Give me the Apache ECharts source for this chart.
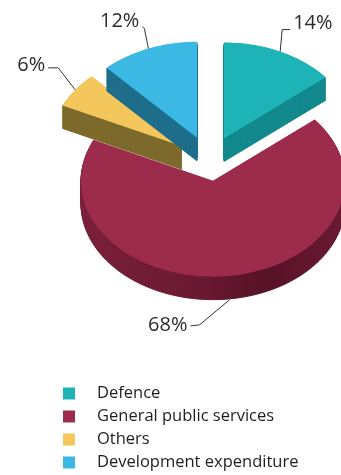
<!DOCTYPE html>
<html>
<head>
<meta charset="utf-8">
<title>Expenditure shares</title>
<script src="https://cdn.jsdelivr.net/npm/echarts@6/dist/echarts.min.js"></script>
<style>
  html, body { margin: 0; padding: 0; background: #fff; }
  #chart { width: 341px; height: 475px; }
</style>
</head>
<body>
<div id="chart"></div>
<script>
// Expenditure categories and their percentage shares
const categories = ['Defence', 'General public services', 'Others', 'Development expenditure'];
const shares = [14, 68, 6, 12];

// Face colours (top) and wall colours (extruded sides)
const topColors = ['#1eb3b6', '#9d2b4b', '#f3c75b', '#3bb9e4'];
const sideColors = ['#12898d', '#6c1a33', '#7d6a2c', '#1e6e8b'];

// Tilted-disc geometry
const geo = { cx: 209.5, cy: 160.8, rx: 132, ry: 96, depth: 23 };
const explode = [34, 27.5, 34, 34];

// Leader line shapes: elbow and tail offsets from the anchor on the slice rim
const leaders = [
  { elbow: [2, -22], tail: [10, -22], align: 'left', onBottom: false, dy: -6 },
  { elbow: [-30, 25], tail: [-39, 26], align: 'right', onBottom: true, dy: -1 },
  { elbow: [-17, -22], tail: [-27, -22], align: 'right', onBottom: false, dy: -3 },
  { elbow: [-4, -20], tail: [-6, -22], align: 'right', onBottom: false, dy: -5 }
];

const total = shares.reduce((a, b) => a + b, 0);
const FONT = '"Open Sans", "Noto Sans", sans-serif';

function sliceAngles(i) {
  let before = 0;
  for (let k = 0; k < i; k++) before += shares[k];
  const a0 = before / total * Math.PI * 2;
  const a1 = (before + shares[i]) / total * Math.PI * 2;
  return [a0, a1];
}

function wallFill(i) {
  if (i !== 1) return sideColors[i];
  // the large front wall darkens towards its lower right
  return new echarts.graphic.LinearGradient(0, 0, 1, 0, [
    { offset: 0, color: '#7a1f3a' },
    { offset: 0.45, color: '#6a1932' },
    { offset: 0.7, color: '#571228' },
    { offset: 1, color: '#6b1a33' }
  ]);
}

function renderSlice(params, api) {
  const i = params.seriesIndex;
  const value = api.value(0);
  const [a0, a1] = sliceAngles(i);
  const mid = (a0 + a1) / 2;
  const ox = geo.cx + explode[i] * Math.sin(mid);
  const oy = geo.cy - explode[i] * Math.cos(mid) * (geo.ry / geo.rx);

  const pts = [[ox, oy]];
  const steps = Math.max(8, Math.ceil((a1 - a0) / (Math.PI / 90)));
  for (let s = 0; s <= steps; s++) {
    const t = a0 + (a1 - a0) * s / steps;
    pts.push([ox + geo.rx * Math.sin(t), oy - geo.ry * Math.cos(t)]);
  }

  const children = [];
  // extruded wall: stacked copies of the face, deepest first
  const fill = wallFill(i);
  for (let d = geo.depth; d >= 1; d--) {
    children.push({
      type: 'polygon',
      shape: { points: pts.map(p => [p[0], p[1] + d]) },
      style: { fill: fill, stroke: fill, lineWidth: 1 },
      silent: true
    });
  }
  children.push({
    type: 'polygon',
    shape: { points: pts },
    style: { fill: topColors[i] }
  });

  // value label with leader line
  const L = leaders[i];
  const ax = ox + geo.rx * Math.sin(mid);
  const ay = oy - geo.ry * Math.cos(mid) + (L.onBottom ? geo.depth + 1 : 0);
  const ex = ax + L.tail[0], ey = ay + L.tail[1];
  children.push({
    type: 'polyline',
    shape: { points: [[ax, ay], [ax + L.elbow[0], ay + L.elbow[1]], [ex, ey]] },
    style: { stroke: '#333', lineWidth: 1, fill: null }
  });
  children.push({
    type: 'text',
    style: {
      text: value + '%',
      x: ex + (L.align === 'left' ? 3 : -3),
      y: ey + L.dy,
      align: L.align,
      verticalAlign: 'middle',
      fontSize: 20,
      fontFamily: FONT,
      fill: '#2b2b2b'
    }
  });
  return { type: 'group', children };
}

const chart = echarts.init(document.getElementById('chart'), null, { renderer: 'canvas' });
chart.setOption({
  animation: false,
  backgroundColor: '#fff',
  legend: {
    orient: 'vertical',
    left: 63,
    top: 385,
    padding: 0,
    icon: 'rect',
    itemWidth: 12,
    itemHeight: 12,
    itemGap: 6,
    selectedMode: false,
    data: categories,
    textStyle: { fontSize: 16.5, color: '#1e1e1e', fontFamily: FONT, padding: [0, 0, 0, 17] }
  },
  series: categories.map((name, i) => ({
    type: 'custom',
    name: name,
    coordinateSystem: 'none',
    itemStyle: { color: topColors[i] },
    renderItem: renderSlice,
    data: [[shares[i]]]
  }))
});
</script>
</body>
</html>
